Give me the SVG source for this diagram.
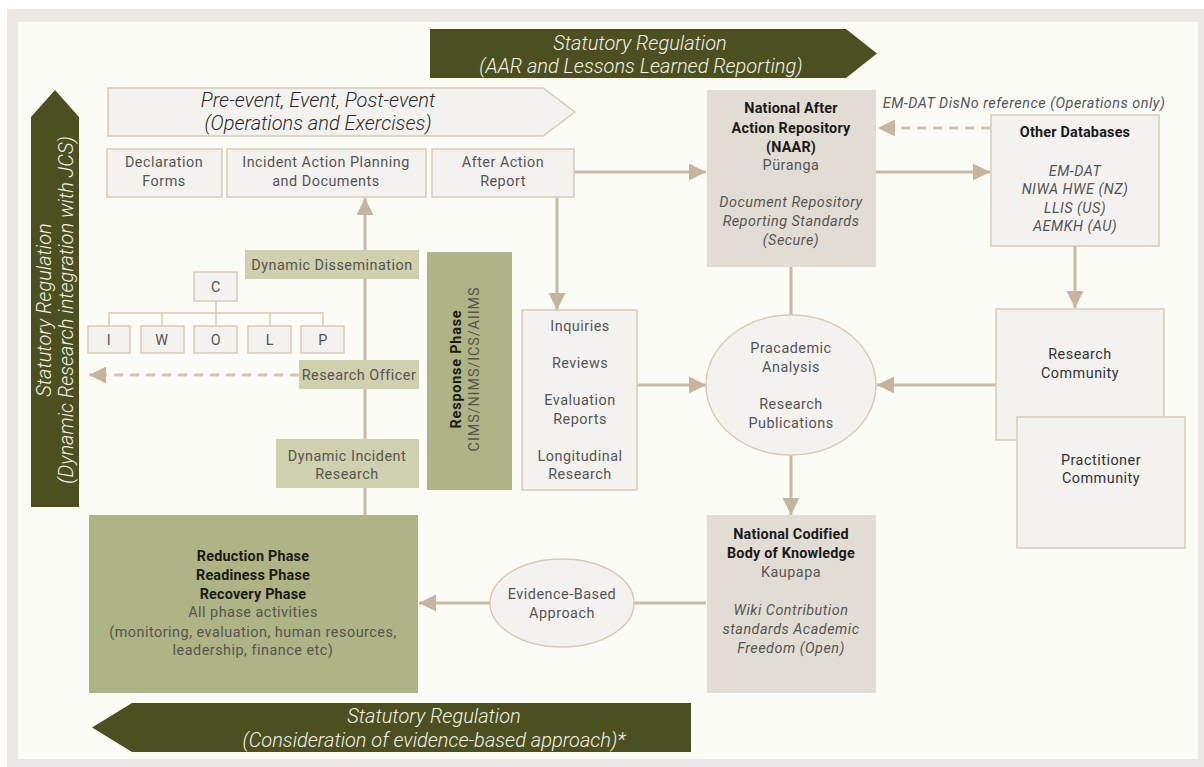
<svg xmlns="http://www.w3.org/2000/svg" width="1204" height="767" viewBox="0 0 1204 767">
<defs>
<style>
.t{font-family:Roboto,"Liberation Sans",sans-serif;font-size:14.4px;fill:#555;text-anchor:middle;letter-spacing:0.5px}
.b{font-weight:bold;fill:#1a1a1a;letter-spacing:0.2px}
.i{font-style:italic}
.d{fill:#333}
.w{font-family:Roboto,"Liberation Sans",sans-serif;font-size:20px;font-style:italic;fill:#f2f1e8;text-anchor:middle;font-weight:300}
.pa{font-family:Roboto,"Liberation Sans",sans-serif;font-size:20px;font-style:italic;fill:#2a2a2a;text-anchor:middle;font-weight:300}
.lb{fill:#f4f2ef;stroke:#d6cbb8;stroke-width:1.5}
.tan{fill:#e2ddd4}
.lo{fill:#cfd0ad}
.mo{fill:#aeb483}
.dk{fill:#4c4f20}
.c{fill:none;stroke:#c9bba3;stroke-width:3}
.cd{fill:none;stroke:#d2c6b2;stroke-width:3;stroke-dasharray:9 7}
.org{fill:none;stroke:#d6cbb8;stroke-width:1.5}
</style>
<marker id="ah" viewBox="0 0 16 16" refX="16" refY="8" markerWidth="17" markerHeight="17" markerUnits="userSpaceOnUse" orient="auto">
<path d="M0,0 L16,8 L0,16 z" fill="#c4b59c"/>
</marker>
</defs>
<rect x="0" y="0" width="1204" height="767" fill="#ffffff"/>
<rect x="7" y="9" width="1197" height="758" fill="#ebe8e5"/>
<rect x="18" y="22" width="1180" height="737" fill="#fcfcf7"/>

<g id="reg-top">
<path class="dk" d="M430,29 H846 L877,53.5 L846,78 H430 z"/>
<text class="w" x="640" y="50">Statutory Regulation</text>
<text class="w" x="641" y="73">(AAR and Lessons Learned Reporting)</text>
</g>
<g id="reg-left">
<path class="dk" d="M31,507 V117 L55,90 L79,117 V507 z"/>
<text class="w" transform="translate(51,310) rotate(-90)">Statutory Regulation</text>
<text class="w" transform="translate(73,310) rotate(-90)">(Dynamic Research integration with JCS)</text>
</g>
<g id="reg-bottom">
<path class="dk" d="M691,703 H132 L92,727.5 L132,752 H691 z"/>
<text class="w" x="434" y="723">Statutory Regulation</text>
<text class="w" x="434" y="747">(Consideration of evidence-based approach)*</text>
</g>

<g id="connectors">
<path class="c" d="M574,172 H706" marker-end="url(#ah)"/>
<path class="c" d="M876,172 H990" marker-end="url(#ah)"/>
<path class="cd" d="M990,128 H878" marker-end="url(#ah)"/>
<path class="c" d="M557,197 V310" marker-end="url(#ah)"/>
<path class="c" d="M637,385 H706" marker-end="url(#ah)"/>
<path class="c" d="M996,385 H877" marker-end="url(#ah)"/>
<path class="c" d="M791,267 V316"/>
<path class="c" d="M791,455 V515" marker-end="url(#ah)"/>
<path class="c" d="M1075,246 V308" marker-end="url(#ah)"/>
<path class="c" d="M490,603 H419" marker-end="url(#ah)"/>
<path class="c" d="M706,603 H634"/>
<path class="c" d="M365,515 V198" marker-end="url(#ah)"/>
<path class="cd" d="M299,375 H89" marker-end="url(#ah)"/>
<path class="org" d="M216,301 V313 M109,326 V313 H323 V326 M162,313 V326 M216,313 V326 M270,313 V326"/>
</g>

<g id="pre-event">
<path d="M108,88 H543 L575,112 L543,136 H108 z" fill="#f4f2ef" stroke="#d6cbb8" stroke-width="1.5"/>
<text class="pa" x="318" y="107">Pre-event, Event, Post-event</text>
<text class="pa" x="318" y="130">(Operations and Exercises)</text>
</g>
<g id="declaration">
<rect class="lb" x="107" y="149" width="115" height="48"/>
<text class="t" x="164" y="167">Declaration</text>
<text class="t" x="164" y="186">Forms</text>
</g>
<g id="iap">
<rect class="lb" x="227" y="149" width="199" height="48"/>
<text class="t" x="326" y="167">Incident Action Planning</text>
<text class="t" x="326" y="186">and Documents</text>
</g>
<g id="aar">
<rect class="lb" x="432" y="149" width="142" height="48"/>
<text class="t" x="503" y="167">After Action</text>
<text class="t" x="503" y="186">Report</text>
</g>
<g id="naar">
<rect class="tan" x="707" y="90" width="169" height="177"/>
<text class="t b" x="791" y="113">National After</text>
<text class="t b" x="791" y="133">Action Repository</text>
<text class="t b" x="791" y="152">(NAAR)</text>
<text class="t" x="791" y="170">Püranga</text>
<text class="t i" x="791" y="207">Document Repository</text>
<text class="t i" x="791" y="226">Reporting Standards</text>
<text class="t i" x="791" y="245">(Secure)</text>
</g>
<g id="emdat-label">
<text class="t i" x="1024" y="108">EM-DAT DisNo reference (Operations only)</text>
</g>
<g id="other-db">
<rect class="lb" x="991" y="115" width="168" height="131"/>
<text class="t b" x="1075" y="137">Other Databases</text>
<text class="t i" x="1075" y="176">EM-DAT</text>
<text class="t i" x="1075" y="194">NIWA HWE (NZ)</text>
<text class="t i" x="1075" y="213">LLIS (US)</text>
<text class="t i" x="1075" y="231">AEMKH (AU)</text>
</g>
<g id="dyn-diss">
<rect class="lo" x="245" y="250" width="174" height="29"/>
<text class="t" x="332" y="270">Dynamic Dissemination</text>
</g>
<g id="response">
<rect class="mo" x="427" y="252" width="85" height="238"/>
<text class="t b" transform="translate(461,369) rotate(-90)" style="letter-spacing:0.8px">Response Phase</text>
<text class="t" transform="translate(479,369) rotate(-90)" style="letter-spacing:0.9px">CIMS/NIMS/ICS/AIIMS</text>
</g>
<g id="org-c"><rect class="lb" x="194" y="272" width="43" height="29"/><text class="t" x="216" y="292">C</text></g>
<g id="org-i"><rect class="lb" x="88" y="326" width="42" height="27"/><text class="t" x="109" y="345">I</text></g>
<g id="org-w"><rect class="lb" x="141" y="326" width="43" height="27"/><text class="t" x="162" y="345">W</text></g>
<g id="org-o"><rect class="lb" x="194" y="326" width="43" height="27"/><text class="t" x="216" y="345">O</text></g>
<g id="org-l"><rect class="lb" x="248" y="326" width="43" height="27"/><text class="t" x="270" y="345">L</text></g>
<g id="org-p"><rect class="lb" x="301" y="326" width="43" height="27"/><text class="t" x="323" y="345">P</text></g>
<g id="research-officer">
<rect class="lo" x="299" y="360" width="120" height="29"/>
<text class="t" x="359" y="380">Research Officer</text>
</g>
<g id="dyn-incident">
<rect class="lo" x="276" y="439" width="143" height="49"/>
<text class="t" x="347" y="461">Dynamic Incident</text>
<text class="t" x="347" y="479">Research</text>
</g>
<g id="inquiries">
<rect class="lb" x="522" y="310" width="115" height="180"/>
<text class="t" x="580" y="331">Inquiries</text>
<text class="t" x="580" y="368">Reviews</text>
<text class="t" x="580" y="405">Evaluation</text>
<text class="t" x="580" y="424">Reports</text>
<text class="t" x="580" y="461">Longitudinal</text>
<text class="t" x="580" y="479">Research</text>
</g>
<g id="pracademic">
<ellipse cx="791" cy="385" rx="85" ry="70" fill="#f4f2ef" stroke="#d6cbb8" stroke-width="1.5"/>
<text class="t" x="791" y="353">Pracademic</text>
<text class="t" x="791" y="372">Analysis</text>
<text class="t" x="791" y="409">Research</text>
<text class="t" x="791" y="428">Publications</text>
</g>
<g id="research-community">
<rect class="lb" x="996" y="309" width="168" height="131"/>
<text class="t d" x="1080" y="359">Research</text>
<text class="t d" x="1080" y="378">Community</text>
</g>
<g id="practitioner-community">
<rect class="lb" x="1017" y="417" width="168" height="131"/>
<text class="t d" x="1101" y="465">Practitioner</text>
<text class="t d" x="1101" y="483">Community</text>
</g>
<g id="reduction">
<rect class="mo" x="89" y="515" width="329" height="178"/>
<text class="t b" x="253" y="561">Reduction Phase</text>
<text class="t b" x="253" y="580">Readiness Phase</text>
<text class="t b" x="253" y="599">Recovery Phase</text>
<text class="t" x="253" y="617">All phase activities</text>
<text class="t" x="253" y="637">(monitoring, evaluation, human resources,</text>
<text class="t" x="253" y="655">leadership, finance etc)</text>
</g>
<g id="evidence">
<ellipse cx="562" cy="603" rx="72" ry="44" fill="#f4f2ef" stroke="#d6cbb8" stroke-width="1.5"/>
<text class="t" x="562" y="599">Evidence-Based</text>
<text class="t" x="562" y="618">Approach</text>
</g>
<g id="ncbk">
<rect class="tan" x="707" y="515" width="169" height="178"/>
<text class="t b" x="791" y="539">National Codified</text>
<text class="t b" x="791" y="558">Body of Knowledge</text>
<text class="t" x="791" y="577">Kaupapa</text>
<text class="t i" x="791" y="615">Wiki Contribution</text>
<text class="t i" x="791" y="634">standards Academic</text>
<text class="t i" x="791" y="653">Freedom (Open)</text>
</g>
</svg>
